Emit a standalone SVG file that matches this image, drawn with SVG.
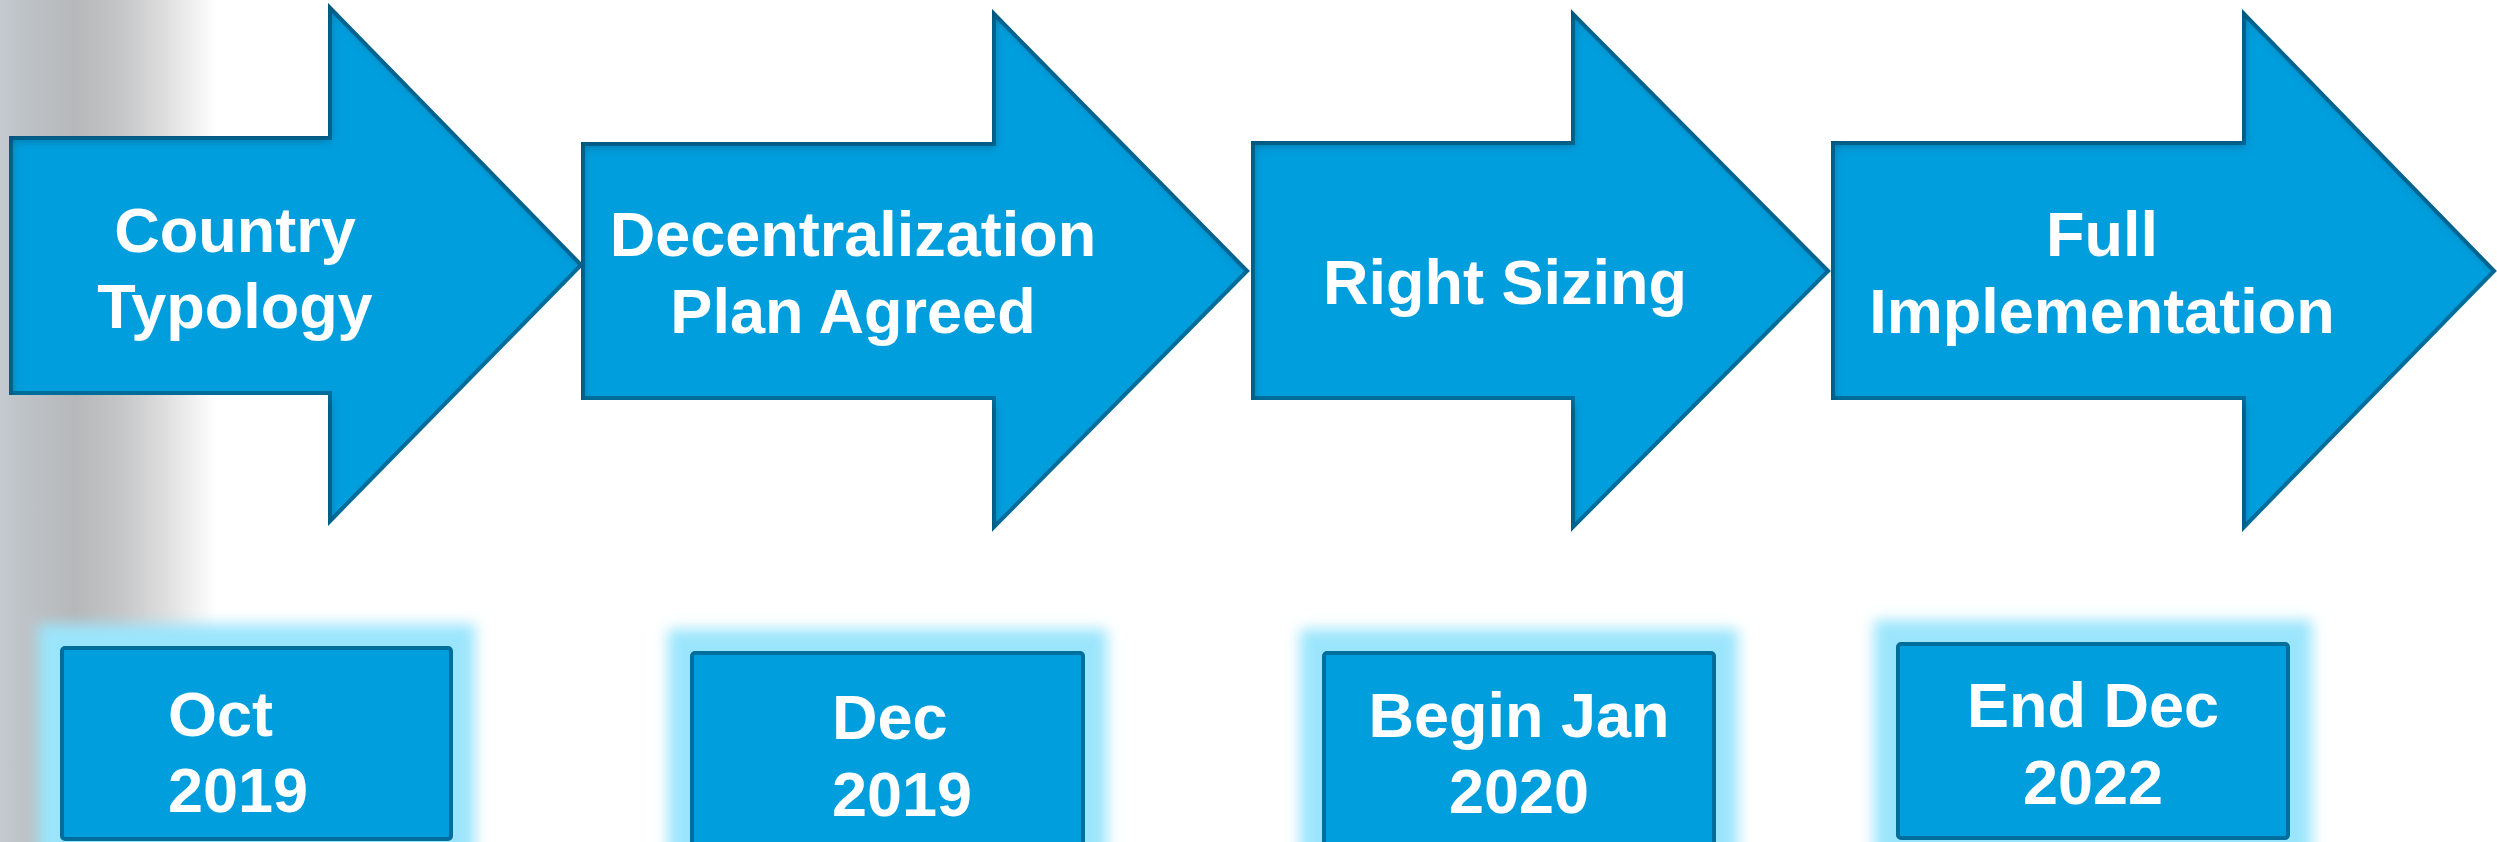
<svg xmlns="http://www.w3.org/2000/svg" width="2497" height="842" viewBox="0 0 2497 842">
  <defs>
    <linearGradient id="strip" x1="0" y1="0" x2="1" y2="0">
      <stop offset="0" stop-color="#c3c9cf"/>
      <stop offset="0.15" stop-color="#bdc1c5"/>
      <stop offset="0.35" stop-color="#b6b8ba"/>
      <stop offset="0.55" stop-color="#c4c5c6"/>
      <stop offset="0.75" stop-color="#dcdcdc"/>
      <stop offset="1" stop-color="#ffffff"/>
    </linearGradient>
    <filter id="inset" x="-10%" y="-10%" width="120%" height="120%">
      <feComponentTransfer in="SourceAlpha" result="inv">
        <feFuncA type="table" tableValues="1 0"/>
      </feComponentTransfer>
      <feGaussianBlur in="inv" stdDeviation="5"/>
      <feOffset dx="3" dy="5" result="sh"/>
      <feFlood flood-color="#003a5a" flood-opacity="0.55"/>
      <feComposite in2="sh" operator="in"/>
      <feComposite in2="SourceAlpha" operator="in" result="inner"/>
      <feMerge>
        <feMergeNode in="SourceGraphic"/>
        <feMergeNode in="inner"/>
      </feMerge>
    </filter>
    <filter id="glow" x="-20%" y="-30%" width="140%" height="160%">
      <feGaussianBlur stdDeviation="7"/>
    </filter>
  </defs>
  <style>
    .arrow { fill: #009edd; stroke: #006e9c; stroke-width: 4; stroke-linejoin: miter; }
    .box { fill: #009edd; stroke: #006e9c; stroke-width: 4; }
    .halo { fill: #9be5fc; }
    .t { font-family: "Liberation Sans", Arial, sans-serif; font-weight: bold; font-size: 63px; fill: #ffffff; }
    .c { text-anchor: middle; }
  </style>

  <rect x="0" y="0" width="216" height="842" fill="url(#strip)"/>

  <g id="connectors"/>

  <g id="step1">
    <polygon class="arrow" filter="url(#inset)" points="11,138 330,138 330,8 581,265 330,521 330,393 11,393"/>
    <text class="t c" x="235" y="252">Country</text>
    <text class="t c" x="235" y="328">Typology</text>
  </g>
  <g id="step2">
    <polygon class="arrow" filter="url(#inset)" points="583,144 994,144 994,14 1247,271 994,527 994,398 583,398"/>
    <text class="t c" x="853" y="256">Decentralization</text>
    <text class="t c" x="853" y="333">Plan Agreed</text>
  </g>
  <g id="step3">
    <polygon class="arrow" filter="url(#inset)" points="1253,143 1573,143 1573,14 1828,271 1573,527 1573,398 1253,398"/>
    <text class="t c" x="1505" y="304">Right Sizing</text>
  </g>
  <g id="step4">
    <polygon class="arrow" filter="url(#inset)" points="1833,143 2244,143 2244,14 2494,271 2244,527 2244,398 1833,398"/>
    <text class="t c" x="2102" y="256">Full</text>
    <text class="t c" x="2102" y="333">Implementation</text>
  </g>

  <g id="date1">
    <rect class="halo" filter="url(#glow)" x="38" y="624" width="437" height="240"/>
    <rect class="box" x="62" y="648" width="389" height="191" rx="3"/>
    <text class="t" x="168" y="736">Oct</text>
    <text class="t" x="168" y="812">2019</text>
  </g>
  <g id="date2">
    <rect class="halo" filter="url(#glow)" x="668" y="629" width="439" height="240"/>
    <rect class="box" x="692" y="653" width="391" height="195" rx="3"/>
    <text class="t" x="832" y="739">Dec</text>
    <text class="t" x="832" y="816">2019</text>
  </g>
  <g id="date3">
    <rect class="halo" filter="url(#glow)" x="1300" y="629" width="438" height="240"/>
    <rect class="box" x="1324" y="653" width="390" height="195" rx="3"/>
    <text class="t c" x="1519" y="737">Begin Jan</text>
    <text class="t c" x="1519" y="813">2020</text>
  </g>
  <g id="date4">
    <rect class="halo" filter="url(#glow)" x="1874" y="620" width="438" height="242"/>
    <rect class="box" x="1898" y="644" width="390" height="194" rx="3"/>
    <text class="t c" x="2093" y="727">End Dec</text>
    <text class="t c" x="2093" y="804">2022</text>
  </g>
</svg>
